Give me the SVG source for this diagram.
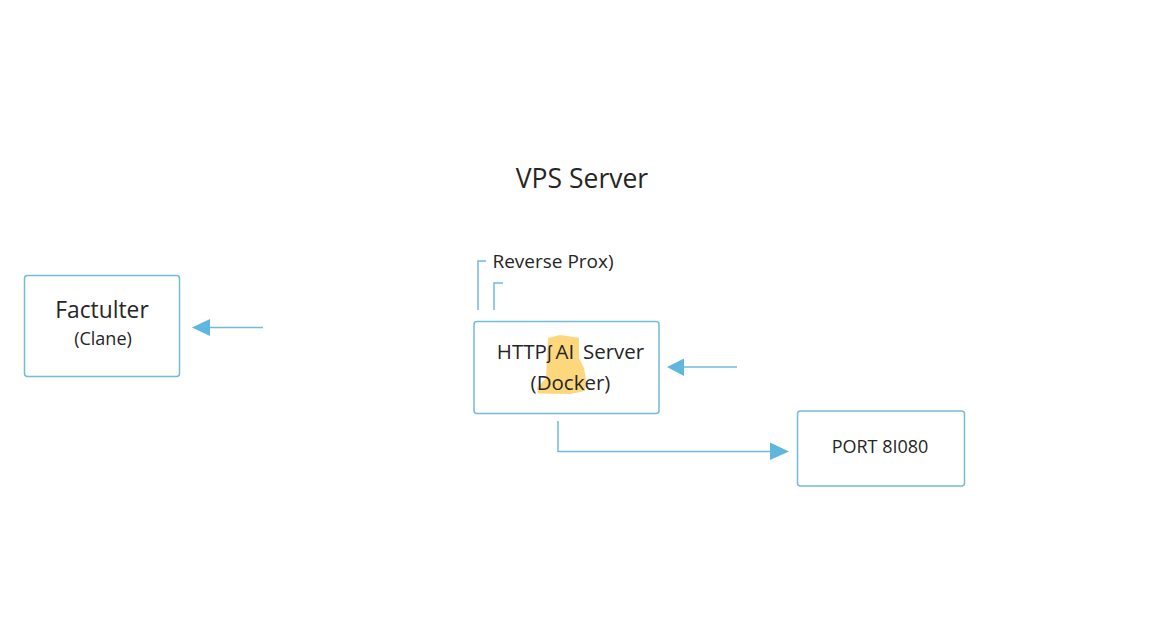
<svg xmlns="http://www.w3.org/2000/svg" width="1152" height="640" viewBox="0 0 1152 640">
<style>
.box{fill:#fff;stroke:#74bbd6;stroke-width:1.5}
.con{fill:none;stroke:#6fbbdc;stroke-width:1.5}
.head{fill:#5fb6de}
text{font-family:"Open Sans","Noto Sans","DejaVu Sans",sans-serif;fill:#262626;text-anchor:middle}
</style>
<rect width="1152" height="640" fill="#fff"/>
<g id="title"><text x="582" y="187.500" font-size="26.500">VPS Server</text></g>
<g id="factulter">
<rect class="box" x="24.500" y="275.500" width="155" height="101" rx="3"/>
<text x="102" y="317.500" font-size="22.800">Factulter</text>
<text x="103" y="345" font-size="18">(Clane)</text>
</g>
<g id="proxy">
<text x="553" y="268" font-size="19">Reverse Prox)</text>
</g>
<g id="server">
<rect class="box" x="474" y="321.500" width="185" height="92" rx="3"/>
<path d="M548 338 L560 335 L579 338 L579 358 L584 368 L586 380 L585 391 L570 394 L538 393.500 L537 388 L546 378 Z" fill="#fdd77c"/>
<text x="570.500" y="359" font-size="20.500" xml:space="preserve">HTTP<tspan font-size="18">ʃ</tspan><tspan dx="4">AI</tspan><tspan dx="-2">  Server</tspan></text>
<text x="570.500" y="390" font-size="20.500">(Docker)</text>
</g>
<g id="port">
<rect class="box" x="797.500" y="411" width="167" height="75" rx="3"/>
<text x="880" y="453" font-size="18">PORT 8I080</text>
</g>
<g id="connectors">
<path class="con" d="M478 310 V261 H486"/>
<path class="con" d="M494 310 V283 H503"/>
<path class="con" d="M263 327.500 H205"/>
<path class="head" d="M192 327.500 L210 319 V336 Z"/>
<path class="con" d="M737 367 H680"/>
<path class="head" d="M667 367 L684 358.500 V376 Z"/>
<path class="con" d="M558 421 V451.500 H775"/>
<path class="head" d="M789 451.500 L770 442.500 V460 Z"/>
</g>
</svg>
